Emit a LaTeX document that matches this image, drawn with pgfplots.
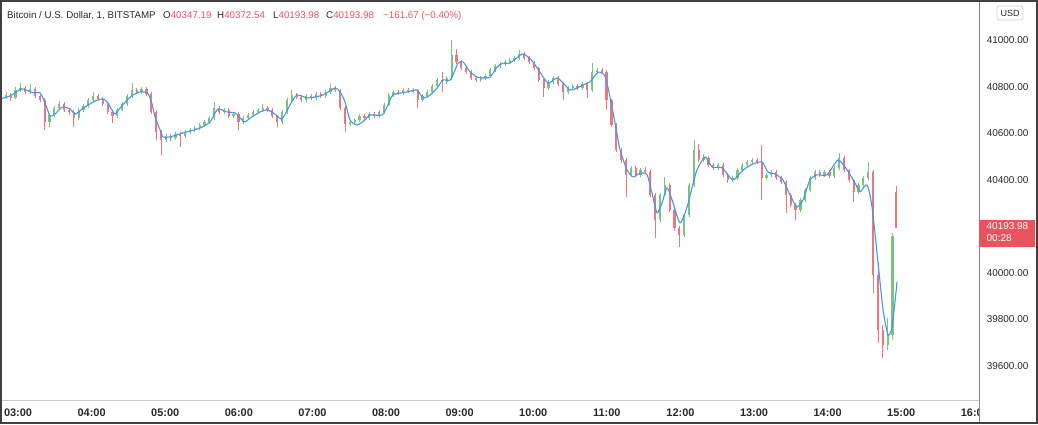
\documentclass[border=0pt]{standalone}
\usepackage{pgfplots}
\pgfplotsset{compat=1.18}
\usepackage{pgfplotstable}
\usepackage{fontspec}
\setmainfont{Liberation Sans}
\definecolor{cup}{RGB}{122,196,126}
\definecolor{cdn}{RGB}{240,118,126}
\definecolor{maline}{RGB}{66,152,232}
\definecolor{tvred}{RGB}{236,82,94}
\definecolor{txt}{RGB}{40,40,44}
\definecolor{sep}{RGB}{135,135,140}

\pgfplotstableread{
t o h l c
-13.8 40742 40768 40730 40755
-9.9 40755 40778 40748 40764
-5.9 40764 40772 40740 40751
-2.0 40751 40798 40745 40785
2.0 40785 40815 40778 40794
5.9 40794 40802 40768 40777
9.9 40777 40811 40770 40790
13.8 40790 40798 40752 40760
17.8 40760 40766 40733 40742
21.7 40742 40750 40614 40648
25.7 40648 40688 40627 40678
29.6 40678 40716 40670 40708
33.6 40708 40738 40700 40725
37.5 40725 40732 40690 40700
41.5 40700 40710 40680 40691
45.4 40691 40700 40627 40665
49.4 40665 40708 40658 40700
53.3 40700 40726 40692 40717
57.3 40717 40750 40710 40742
61.2 40742 40777 40735 40760
65.2 40760 40768 40738 40747
69.1 40747 40755 40716 40725
73.1 40725 40730 40682 40691
77.0 40691 40698 40644 40674
81.0 40674 40708 40666 40700
84.9 40700 40734 40694 40725
88.9 40725 40768 40718 40760
92.8 40760 40815 40752 40785
96.8 40785 40794 40768 40777
100.7 40777 40800 40770 40790
104.7 40790 40797 40760 40768
108.6 40768 40775 40682 40691
112.6 40691 40698 40571 40605
116.5 40605 40615 40506 40571
120.5 40571 40598 40560 40588
124.4 40588 40596 40568 40579
128.3 40579 40606 40570 40597
132.3 40597 40605 40541 40588
136.2 40588 40612 40578 40605
140.2 40605 40622 40597 40614
144.1 40614 40632 40606 40622
148.1 40622 40645 40615 40635
152.0 40635 40656 40628 40648
156.0 40648 40675 40640 40665
159.9 40665 40734 40658 40708
163.9 40708 40716 40682 40691
167.8 40691 40710 40684 40700
171.8 40700 40706 40665 40674
175.7 40674 40692 40666 40682
179.7 40682 40690 40614 40648
183.6 40648 40674 40640 40665
187.6 40665 40688 40658 40678
191.5 40678 40700 40670 40691
195.5 40691 40710 40684 40700
199.4 40700 40725 40692 40708
203.4 40708 40716 40690 40700
207.3 40700 40706 40665 40674
211.3 40674 40680 40627 40648
215.2 40648 40700 40640 40691
219.2 40691 40750 40684 40742
223.1 40742 40785 40735 40764
227.1 40764 40772 40746 40755
231.0 40755 40762 40733 40742
235.0 40742 40768 40735 40760
238.9 40760 40770 40742 40751
242.9 40751 40777 40744 40768
246.8 40768 40776 40750 40760
250.8 40760 40786 40752 40777
254.7 40777 40811 40770 40794
258.7 40794 40802 40776 40785
262.6 40785 40790 40700 40708
266.6 40708 40715 40605 40639
270.5 40639 40656 40630 40648
274.5 40648 40665 40640 40657
278.4 40657 40682 40650 40674
282.4 40674 40682 40656 40665
286.3 40665 40690 40658 40682
290.3 40682 40690 40666 40674
294.2 40674 40700 40666 40691
298.2 40691 40730 40684 40721
302.1 40721 40772 40715 40764
306.1 40764 40786 40756 40777
310.0 40777 40785 40764 40772
314.0 40772 40794 40765 40785
317.9 40785 40792 40772 40781
321.9 40781 40796 40774 40785
325.8 40785 40790 40708 40742
329.8 40742 40768 40734 40760
333.7 40760 40785 40752 40777
337.7 40777 40812 40770 40803
341.6 40803 40836 40796 40828
345.6 40828 40863 40777 40820
349.5 40820 40846 40812 40837
353.5 40837 41000 40830 40936
357.4 40936 40960 40898 40906
361.4 40906 40915 40870 40880
365.3 40880 40888 40854 40863
369.3 40863 40870 40828 40837
373.2 40837 40846 40818 40828
377.1 40828 40845 40820 40837
381.1 40837 40855 40830 40846
385.0 40846 40880 40840 40871
389.0 40871 40896 40864 40888
392.9 40888 40905 40880 40897
396.9 40897 40914 40890 40906
400.8 40906 40922 40898 40914
404.8 40914 40932 40906 40923
408.7 40923 40957 40915 40940
412.7 40940 40948 40914 40923
416.6 40923 40930 40896 40906
420.6 40906 40912 40870 40880
424.5 40880 40886 40818 40828
428.5 40828 40834 40755 40794
432.4 40794 40828 40786 40820
436.4 40820 40845 40812 40837
440.3 40837 40844 40802 40811
444.3 40811 40818 40742 40777
448.2 40777 40802 40770 40794
452.2 40794 40812 40786 40803
456.1 40803 40810 40785 40794
460.1 40794 40820 40786 40811
464.0 40811 40818 40751 40785
468.0 40785 40901 40778 40863
471.9 40863 40880 40855 40871
475.9 40871 40878 40854 40863
479.8 40863 40870 40700 40742
483.8 40742 40748 40625 40635
487.7 40635 40642 40518 40528
491.7 40528 40535 40470 40485
495.6 40485 40492 40326 40421
499.6 40421 40460 40410 40451
503.5 40451 40460 40410 40421
507.5 40421 40452 40412 40442
511.4 40442 40455 40424 40433
515.4 40433 40440 40325 40335
519.3 40335 40342 40150 40227
523.3 40227 40345 40218 40335
527.2 40335 40412 40326 40378
531.2 40378 40385 40260 40270
535.1 40270 40278 40180 40193
539.1 40193 40200 40112 40163
543.0 40163 40258 40155 40249
547.0 40249 40386 40240 40378
550.9 40378 40571 40370 40528
554.9 40528 40555 40476 40485
558.8 40485 40510 40475 40494
562.8 40494 40500 40455 40464
566.7 40464 40472 40440 40451
570.7 40451 40473 40443 40464
574.6 40464 40470 40410 40421
578.6 40421 40428 40388 40399
582.5 40399 40416 40390 40408
586.5 40408 40450 40400 40442
590.4 40442 40472 40434 40464
594.4 40464 40485 40456 40476
598.3 40476 40494 40468 40485
602.3 40485 40494 40468 40476
606.2 40476 40549 40313 40408
610.1 40408 40430 40400 40421
614.1 40421 40442 40412 40433
618.0 40433 40440 40398 40408
622.0 40408 40415 40380 40391
625.9 40391 40398 40258 40335
629.9 40335 40342 40282 40292
633.8 40292 40300 40227 40270
637.8 40270 40322 40262 40313
641.7 40313 40365 40305 40356
645.7 40356 40416 40348 40408
649.6 40408 40442 40400 40433
653.6 40433 40440 40412 40421
657.5 40421 40442 40412 40433
661.5 40433 40440 40406 40416
665.4 40416 40460 40408 40451
669.4 40451 40515 40444 40494
673.3 40494 40500 40432 40442
677.3 40442 40448 40390 40399
681.2 40399 40405 40305 40348
685.2 40348 40386 40340 40378
689.1 40378 40416 40370 40408
693.1 40408 40476 40400 40433
697.0 40433 40440 39914 39991
701.0 39991 40047 39700 39755
704.9 39755 39777 39635 39691
708.9 39691 39807 39670 39734
712.8 39734 40172 39712 40159
715.8 40347.19 40372.54 40193.98 40193.98
}\candles

\pgfplotstableread{
t v
-14.7 40747
-6.5 40760
3.3 40790
12.2 40773
17.9 40773
22.0 40730
26.1 40674
30.2 40682
35.9 40712
42.4 40704
46.5 40682
52.2 40704
57.1 40721
64.4 40742
69.3 40747
72.6 40734
76.6 40700
79.1 40682
83.2 40708
88.9 40742
93.7 40764
99.5 40777
105.2 40773
108.4 40742
111.7 40670
115.8 40614
118.2 40584
123.9 40584
134.5 40601
148.4 40622
156.5 40648
162.2 40700
166.3 40700
170.4 40691
176.9 40687
181.0 40665
185.1 40648
189.2 40665
197.3 40691
203.0 40700
209.5 40682
215.2 40661
221.7 40721
227.4 40764
236.4 40751
248.6 40764
258.4 40794
262.5 40777
266.6 40734
270.6 40657
276.4 40635
282.9 40657
286.9 40678
296.7 40678
301.6 40721
305.7 40764
317.1 40777
325.3 40785
330.2 40751
335.9 40764
341.6 40794
346.5 40828
352.2 40828
356.3 40871
358.7 40901
362.8 40906
368.5 40863
374.2 40841
379.1 40837
384.8 40841
390.5 40884
395.4 40901
401.1 40901
410.9 40940
415.8 40927
419.8 40906
425.5 40862
432.1 40815
439.4 40837
445.9 40807
450.0 40785
455.7 40794
460.6 40807
466.3 40820
472.8 40862
478.5 40845
482.6 40755
486.7 40644
490.8 40528
496.5 40442
501.4 40412
507.1 40429
512.8 40421
516.8 40343
520.9 40258
525.0 40300
529.1 40365
534.0 40300
539.7 40215
545.4 40283
549.4 40365
553.5 40442
560.0 40498
565.8 40455
573.9 40451
582.9 40399
591.0 40442
599.2 40468
606.5 40476
611.4 40433
617.1 40425
623.6 40399
629.3 40335
635.0 40283
639.9 40313
645.6 40399
651.3 40421
659.5 40421
668.5 40485
675.8 40442
682.3 40386
686.4 40348
692.1 40378
696.2 40283
701.1 40043
705.2 39841
709.2 39734
712.5 39768
716.6 39961
}\maline

\begin{document}
\begin{tikzpicture}[x=1bp,y=1bp]
\begin{axis}[
  at={(0,0)}, anchor=south west,
  scale only axis, width=979bp, height=400bp,
  xmin=-14.7, xmax=783.4, ymin=39454.3, ymax=41171.8,
  axis line style={draw=none},
  major tick length=0pt,
  xtick={0,60,120,180,240,300,360,420,480,540,600,660,720,780},
  xticklabels={03:00,04:00,05:00,06:00,07:00,08:00,09:00,10:00,11:00,12:00,13:00,14:00,15:00,16:00},
  ytick={39600,39800,40000,40400,40600,40800,41000},
  yticklabels={39600.00,39800.00,40000.00,40400.00,40600.00,40800.00,41000.00},
  yticklabel pos=right,
  xticklabel style={font=\fontsize{11}{13}\selectfont\bfseries, text=txt, anchor=base, yshift=-16bp},
  yticklabel style={font=\fontsize{10}{12}\selectfont, text=txt, anchor=west, xshift=4.3bp},
]
% wicks
\addplot[draw=none, mark=none, forget plot,
  restrict expr to domain={\thisrow{c}-\thisrow{o}}{0:100000},
  error bars/.cd, y dir=both, y explicit, error mark=none,
  error bar style={draw=cup, line width=0.6bp}]
  table[x=t, y expr={0.5*(\thisrow{h}+\thisrow{l})}, y error expr={0.5*(\thisrow{h}-\thisrow{l})}] {\candles};
\addplot[draw=none, mark=none, forget plot,
  restrict expr to domain={\thisrow{c}-\thisrow{o}}{-100000:-0.001},
  error bars/.cd, y dir=both, y explicit, error mark=none,
  error bar style={draw=cdn, line width=0.6bp}]
  table[x=t, y expr={0.5*(\thisrow{h}+\thisrow{l})}, y error expr={0.5*(\thisrow{h}-\thisrow{l})}] {\candles};
% bodies
\addplot[draw=none, mark=none, forget plot,
  restrict expr to domain={\thisrow{c}-\thisrow{o}}{0:100000},
  error bars/.cd, y dir=both, y explicit, error mark=none,
  error bar style={draw=cup, line width=2.2bp}]
  table[x=t, y expr={0.5*(\thisrow{o}+\thisrow{c})}, y error expr={0.5*abs(\thisrow{c}-\thisrow{o})+1}] {\candles};
\addplot[draw=none, mark=none, forget plot,
  restrict expr to domain={\thisrow{c}-\thisrow{o}}{-100000:-0.001},
  error bars/.cd, y dir=both, y explicit, error mark=none,
  error bar style={draw=cdn, line width=2.2bp}]
  table[x=t, y expr={0.5*(\thisrow{o}+\thisrow{c})}, y error expr={0.5*abs(\thisrow{c}-\thisrow{o})+1}] {\candles};
% moving average
\addplot[maline, line width=1.1bp, mark=none, smooth, tension=0.4, line join=round] table[x=t, y=v] {\maline};
\end{axis}
% cover clipped part of last time label
\fill[white] (979,-24) rectangle (1038,0);
\draw[sep!45, line width=0.8bp] (0,0) -- (979,0);
\draw[sep, line width=0.9bp] (979,-24) -- (979,400);
\draw[black!75, line width=1.6bp] (0.8,-23.2) rectangle (1037.2,399.2);
% USD box
\draw[black!18, line width=0.7bp, rounded corners=2.5bp] (997,380) rectangle (1023,394);
\node[font=\fontsize{9}{10}\selectfont, text=txt] at (1010,387) {USD};
% last price box
\fill[tvred] (979,153) rectangle (1035,180);
\node[font=\fontsize{10}{12}\selectfont, text=white, anchor=west, inner sep=0pt] at (986.5,173.5) {40193.98};
\node[font=\fontsize{10}{12}\selectfont, text=white, anchor=west, inner sep=0pt] at (986.5,161.5) {00:28};
% title
\begin{scope}[every node/.style={font=\fontsize{9.8}{11}\selectfont, anchor=base west, inner sep=0pt}]
\node[text=txt] at (7,382) {Bitcoin / U.S. Dollar, 1, BITSTAMP};
\node[text=txt] at (163,382) {O\textcolor{tvred}{40347.19}};
\node[text=txt] at (217,382) {H\textcolor{tvred}{40372.54}};
\node[text=txt] at (273,382) {L\textcolor{tvred}{40193.98}};
\node[text=txt] at (326,382) {C\textcolor{tvred}{40193.98}};
\node[text=tvred] at (383,382) {−161.67 (−0.40\%)};
\end{scope}
\pgfresetboundingbox
\useasboundingbox (0,-24) rectangle (1038,400);
\end{tikzpicture}
\end{document}
